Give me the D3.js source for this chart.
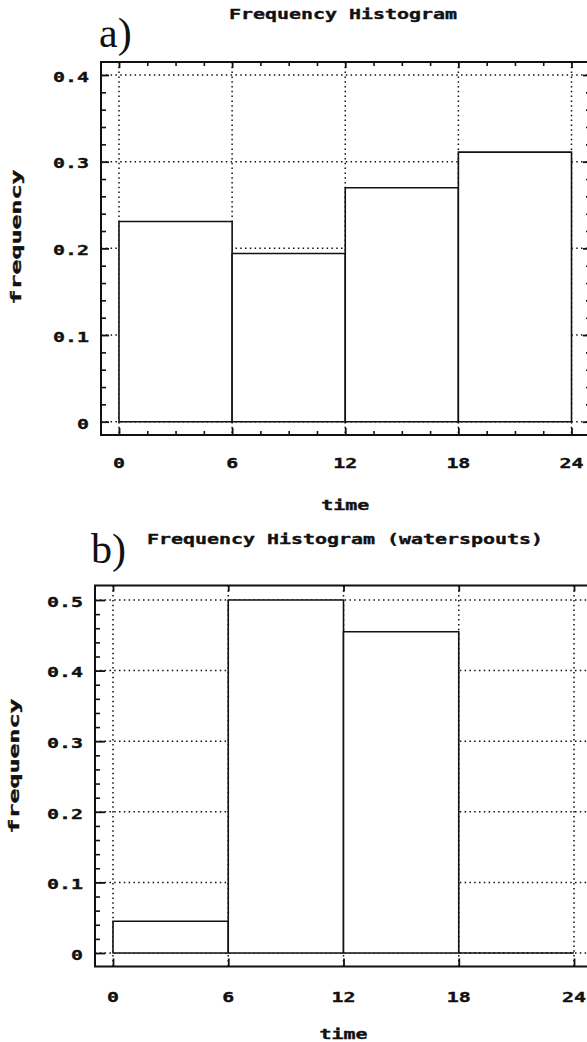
<!DOCTYPE html>
<html>
<head>
<meta charset="utf-8">
<script src="https://cdn.jsdelivr.net/npm/d3@7"></script>
<style>
  html, body { margin: 0; padding: 0; background: #fff; }
  svg { display: block; }
</style>
</head>
<body>
<svg id="chart" width="587" height="1042"></svg>
<script>
// ---- data ----
const binEdges = [0, 6, 12, 18, 24];
const freqAllEvents = [0.231, 0.194, 0.270, 0.311];
const freqWaterspouts = [0.045, 0.500, 0.455, 0.000];
const timeTicks = [0, 6, 12, 18, 24];
const freqTicksA = [0, 0.1, 0.2, 0.3, 0.4];
const freqTicksB = [0, 0.1, 0.2, 0.3, 0.4, 0.5];
const panelLetters = ["a)", "b)"];
const panelTitles = ["Frequency Histogram", "Frequency Histogram (waterspouts)"];
const xAxisLabel = "time";
const yAxisLabel = "frequency";

// ---- styling ----
const INK = "#111";
const MONO = "'DejaVu Sans Mono', monospace";
const ADV = 12;          // character cell width of the wide plotter font
const fmtFreq = d => d === 0 ? "0" : d3.format(".1f")(d);

const svg = d3.select("#chart");
svg.append("rect").attr("width", 587).attr("height", 1042).attr("fill", "#fff");

// Bold monospace text stretched to a fixed cell width per character
function monoText(parent, str, x, y, anchor, adv, size) {
  const s = String(str);
  const len = s.length * adv;
  const x0 = anchor === "end" ? x - len : anchor === "middle" ? x - len / 2 : x;
  return parent.append("text")
    .attr("x", x0).attr("y", y)
    .attr("textLength", len).attr("lengthAdjust", "spacingAndGlyphs")
    .attr("font-family", MONO).attr("font-weight", "bold")
    .attr("font-size", size).attr("fill", INK)
    .attr("stroke", INK).attr("stroke-width", 0.35)
    .text(s);
}

function styleAxis(sel, width) {
  sel.select(".domain").remove();
  sel.selectAll(".tick line").attr("stroke", INK).attr("stroke-width", width);
  sel.selectAll(".tick text").remove();
}

function drawPanel(cfg) {
  const g = svg.append("g");
  const f = cfg.frame;
  const x = d3.scaleLinear().domain([binEdges[0], binEdges[binEdges.length - 1]]).range(cfg.xRange);
  const y = d3.scaleLinear().domain([0, d3.max(cfg.yTicks)]).range(cfg.yRange);

  // dotted grid
  const grid = g.append("g")
    .attr("stroke", INK).attr("stroke-width", 1.5)
    .attr("stroke-dasharray", "1.5 3.3").attr("fill", "none");
  grid.selectAll("line.gh").data(cfg.yTicks).join("line").attr("class", "gh")
    .attr("x1", f.l).attr("x2", f.r).attr("y1", d => y(d)).attr("y2", d => y(d));
  grid.selectAll("line.gv").data(timeTicks).join("line").attr("class", "gv")
    .attr("x1", d => x(d)).attr("x2", d => x(d)).attr("y1", f.t).attr("y2", f.b);

  // histogram bars
  const bins = cfg.values.map((v, i) => ({ x0: binEdges[i], x1: binEdges[i + 1], v }));
  g.selectAll("path.bar").data(bins).join("path").attr("class", "bar")
    .attr("d", d => `M${x(d.x0)},${y(0)}V${y(d.v)}H${x(d.x1)}V${y(0)}Z`)
    .attr("fill", "#fff").attr("stroke", INK).attr("stroke-width", 1.6);

  // frame
  g.append("rect")
    .attr("x", f.l).attr("y", f.t).attr("width", f.r - f.l).attr("height", f.b - f.t)
    .attr("fill", "none").attr("stroke", INK).attr("stroke-width", 2);

  // tick marks, all pointing into the plot
  const yMax = d3.max(cfg.yTicks);
  const yMinor = d3.range(0, yMax + 1e-9, 0.02).filter(v => Math.round(v * 100) % 10 !== 0);
  const xMinor = d3.range(0, 24.001, 1.5).filter(v => v % 6 !== 0);

  g.append("g").attr("transform", `translate(${f.l},0)`)
    .call(d3.axisLeft(y).tickValues(cfg.yTicks).tickSize(-cfg.leftMajor)).call(styleAxis, 1.8);
  g.append("g").attr("transform", `translate(${f.l},0)`)
    .call(d3.axisLeft(y).tickValues(yMinor).tickSize(-5)).call(styleAxis, 1.6);
  g.append("g").attr("transform", `translate(${f.r},0)`)
    .call(d3.axisRight(y).tickValues(cfg.yTicks).tickSize(-8)).call(styleAxis, 1.8);
  g.append("g").attr("transform", `translate(${f.r},0)`)
    .call(d3.axisRight(y).tickValues(yMinor).tickSize(-5)).call(styleAxis, 1.6);

  g.append("g").attr("transform", `translate(0,${f.b})`)
    .call(d3.axisBottom(x).tickValues(timeTicks).tickSize(-cfg.bottomMajor)).call(styleAxis, 1.8);
  g.append("g").attr("transform", `translate(0,${f.t})`)
    .call(d3.axisTop(x).tickValues(timeTicks).tickSize(-6)).call(styleAxis, 1.8);
  if (cfg.xMinorTicks) {
    g.append("g").attr("transform", `translate(0,${f.b})`)
      .call(d3.axisBottom(x).tickValues(xMinor).tickSize(-4)).call(styleAxis, 1.6);
    g.append("g").attr("transform", `translate(0,${f.t})`)
      .call(d3.axisTop(x).tickValues(xMinor).tickSize(-4)).call(styleAxis, 1.6);
  }

  // tick labels
  cfg.yTicks.forEach(d => monoText(g, fmtFreq(d), f.l - 12, y(d) + 6.8, "end", ADV, 13.5));
  timeTicks.forEach(d => monoText(g, d, x(d), cfg.xLabelBase, "middle", ADV, 13.5));

  // axis titles
  monoText(g, xAxisLabel, x(12), cfg.timeBase, "middle", ADV, 13.5);
  const yl = g.append("g").attr("transform", `translate(${cfg.yLabelX},${cfg.yLabelY}) rotate(-90)`);
  monoText(yl, yAxisLabel, 0, 0, "middle", 15, 14);

  // chart title and panel letter
  monoText(g, cfg.title, cfg.titleX, cfg.titleBase, "start", ADV, 13.5);
  g.append("text")
    .attr("x", cfg.letterX).attr("y", cfg.letterBase)
    .attr("font-family", "'Liberation Serif', 'Times New Roman', serif")
    .attr("font-size", 42).attr("fill", INK)
    .text(cfg.letter);
}

drawPanel({
  values: freqAllEvents, yTicks: freqTicksA,
  frame: { l: 101, t: 62, r: 591, b: 435 },
  xRange: [119, 571.5], yRange: [421.7, 75],
  leftMajor: 8, bottomMajor: 7, xMinorTicks: true,
  xLabelBase: 468, timeBase: 510,
  yLabelX: 21, yLabelY: 237,
  title: panelTitles[0], titleX: 229, titleBase: 18.5,
  letter: panelLetters[0], letterX: 99, letterBase: 47
});

drawPanel({
  values: freqWaterspouts, yTicks: freqTicksB,
  frame: { l: 95, t: 585.5, r: 600, b: 966.5 },
  xRange: [113, 574], yRange: [953, 600],
  leftMajor: 10, bottomMajor: 8, xMinorTicks: false,
  xLabelBase: 1002, timeBase: 1039,
  yLabelX: 19, yLabelY: 766,
  title: panelTitles[1], titleX: 147, titleBase: 543.5,
  letter: panelLetters[1], letterX: 91, letterBase: 563
});
</script>
</body>
</html>
